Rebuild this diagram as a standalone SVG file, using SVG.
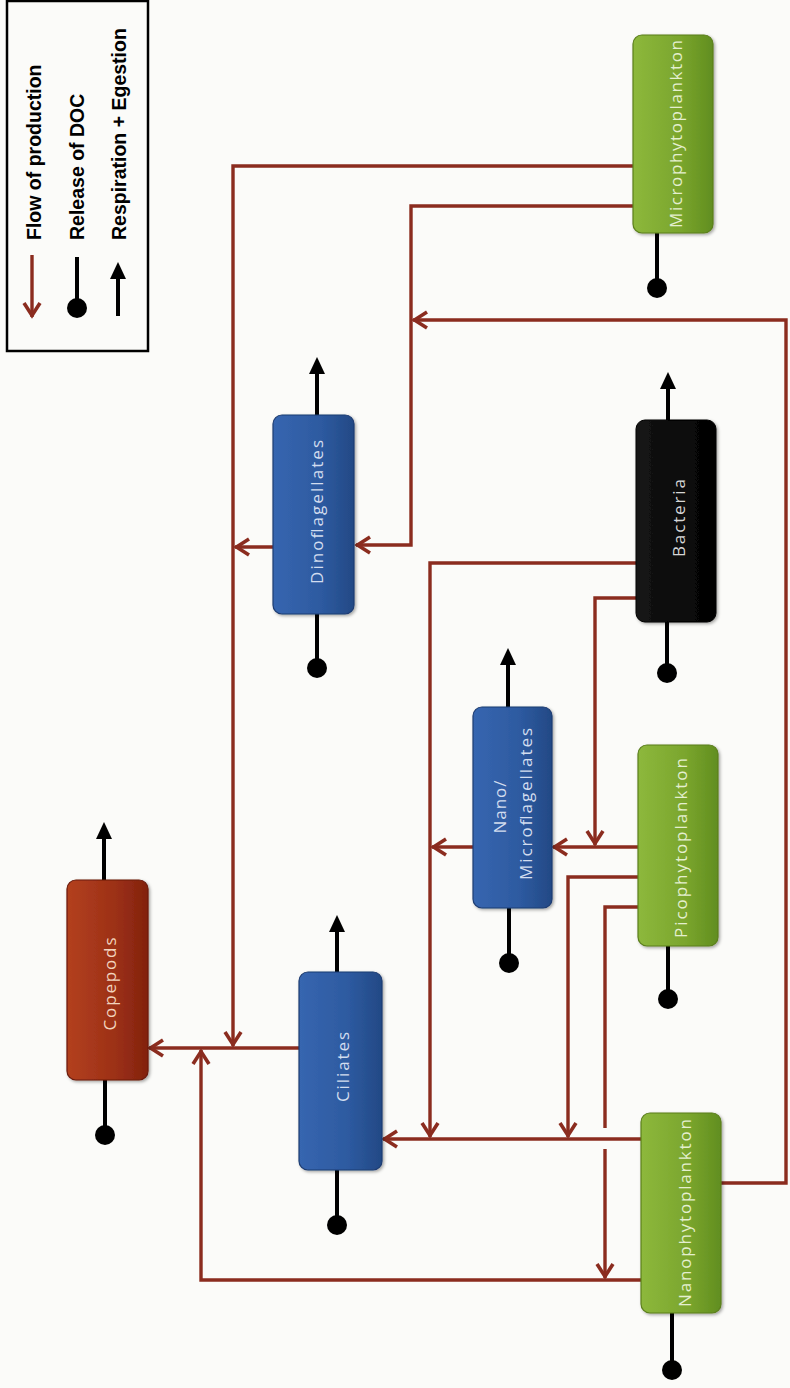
<svg xmlns="http://www.w3.org/2000/svg" xmlns:xlink="http://www.w3.org/1999/xlink" width="790" height="1388" viewBox="0 0 790 1388">
<style>
.bg{fill:#fbfbf9}
.flow{fill:none;stroke:#8b2c1f;stroke-width:3.4;stroke-linejoin:miter}
.stem{stroke:#000;stroke-width:4}
.dot{fill:#000}
.head{fill:#000}
.box{filter:url(#sh)}
.green{fill:url(#gGreen);stroke:#5b7f1c;stroke-width:1.2}
.blue{fill:url(#gBlue);stroke:#1d3c72;stroke-width:1.2}
.black{fill:url(#gBlack);stroke:#000;stroke-width:1}
.red{fill:url(#gRed);stroke:#6a1a0b;stroke-width:1.2}
.lbl{font-family:"Open Sans","Liberation Sans",sans-serif;font-size:17px;text-anchor:middle;dominant-baseline:central}
.tg{fill:#e4efcf}
.tb{fill:#d2ddef}
.tk{fill:#d6d6d6}
.tr{fill:#f1d3bd}
.leg{font-family:"Liberation Sans",Arial,sans-serif;font-size:19.5px;font-weight:bold;fill:#000;dominant-baseline:central}
</style>
<defs>
<linearGradient id="gGreen" x1="0" y1="0" x2="1" y2="0">
<stop offset="0" stop-color="#8db83c"/><stop offset="0.6" stop-color="#7aa52d"/><stop offset="1" stop-color="#618e1f"/>
</linearGradient>
<linearGradient id="gBlue" x1="0" y1="0" x2="1" y2="0">
<stop offset="0" stop-color="#3766b0"/><stop offset="0.6" stop-color="#2d5aa0"/><stop offset="1" stop-color="#234985"/>
</linearGradient>
<linearGradient id="gBlack" x1="0" y1="0" x2="1" y2="0">
<stop offset="0" stop-color="#151515"/><stop offset="1" stop-color="#020202"/>
</linearGradient>
<linearGradient id="gRed" x1="0" y1="0" x2="1" y2="0">
<stop offset="0" stop-color="#b3401f"/><stop offset="0.6" stop-color="#9c3016"/><stop offset="1" stop-color="#82220e"/>
</linearGradient>
<filter id="sh" x="-20%" y="-20%" width="140%" height="140%">
<feDropShadow dx="1.5" dy="1.5" stdDeviation="1.5" flood-color="#000" flood-opacity="0.35"/>
</filter>
<marker id="ra" viewBox="-16 -10 18 20" refX="0" refY="0" markerWidth="18" markerHeight="20" orient="auto" markerUnits="userSpaceOnUse">
<path d="M-14,-8 L-1.5,0 L-14,8" fill="none" stroke="#8b2c1f" stroke-width="3.6"/>
</marker>
<path id="uh" d="M0,0 L-8,17 L8,17 z"/>
</defs>
<rect class="bg" x="0" y="0" width="790" height="1388"/>

<g id="legend">
<rect x="7" y="1" width="141" height="350" fill="none" stroke="#000" stroke-width="2.5"/>
<line x1="32" y1="255" x2="32" y2="317" class="flow" marker-end="url(#ra)"/>
<line x1="77" y1="257" x2="77" y2="305" class="stem"/>
<circle cx="77" cy="308" r="10" class="dot"/>
<line x1="118" y1="316" x2="118" y2="276" class="stem"/>
<use xlink:href="#uh" x="118" y="262" class="head"/>
<text class="leg" transform="translate(34,240) rotate(-90)">Flow of production</text>
<text class="leg" transform="translate(77,240) rotate(-90)">Release of DOC</text>
<text class="leg" transform="translate(119,240) rotate(-90)">Respiration + Egestion</text>
</g>

<g id="connectors">
<path class="flow" d="M633,166 H233 V1046" marker-end="url(#ra)"/>
<path class="flow" d="M633,206 H411 V545 H356" marker-end="url(#ra)"/>
<path class="flow" d="M721,1183 H786 V320 H413" marker-end="url(#ra)"/>
<path class="flow" d="M273,547 H235" marker-end="url(#ra)"/>
<path class="flow" d="M299,1048 H149" marker-end="url(#ra)"/>
<path class="flow" d="M641,1280 H201 V1050" marker-end="url(#ra)"/>
<path class="flow" d="M641,1139 H383" marker-end="url(#ra)"/>
<path class="flow" d="M636,563 H430 V1137" marker-end="url(#ra)"/>
<path class="flow" d="M636,598 H595 V845" marker-end="url(#ra)"/>
<path class="flow" d="M638,847 H553" marker-end="url(#ra)"/>
<path class="flow" d="M473,847 H432" marker-end="url(#ra)"/>
<path class="flow" d="M638,877 H568 V1137" marker-end="url(#ra)"/>
<path class="flow" d="M638,907 H605 V1128"/>
<path class="flow" d="M605,1149 V1278" marker-end="url(#ra)"/>
</g>

<g id="microphytoplankton">
<line x1="657" y1="233" x2="657" y2="288" class="stem"/>
<circle cx="657" cy="288" r="10" class="dot"/>
<rect class="box green" x="633" y="35" width="80" height="198" rx="9"/>
<text class="lbl tg" transform="translate(675,134) rotate(-90)" textLength="188" lengthAdjust="spacing">Microphytoplankton</text>
</g>

<g id="dinoflagellates">
<line x1="317" y1="415" x2="317" y2="370" class="stem"/>
<use xlink:href="#uh" x="317" y="357" class="head"/>
<line x1="317" y1="614" x2="317" y2="668" class="stem"/>
<circle cx="317" cy="668" r="10" class="dot"/>
<rect class="box blue" x="273" y="415" width="81" height="199" rx="9"/>
<text class="lbl tb" transform="translate(316,512) rotate(-90)" textLength="144" lengthAdjust="spacing">Dinoflagellates</text>
</g>

<g id="bacteria">
<line x1="668" y1="420" x2="668" y2="385" class="stem"/>
<use xlink:href="#uh" x="668" y="372" class="head"/>
<line x1="667" y1="622" x2="667" y2="673" class="stem"/>
<circle cx="667" cy="673" r="10" class="dot"/>
<rect class="box black" x="636" y="420" width="80" height="202" rx="9"/>
<text class="lbl tk" transform="translate(678,518) rotate(-90)" textLength="78" lengthAdjust="spacing">Bacteria</text>
</g>

<g id="nano-microflagellates">
<line x1="508" y1="707" x2="508" y2="661" class="stem"/>
<use xlink:href="#uh" x="508" y="648" class="head"/>
<line x1="509" y1="908" x2="509" y2="963" class="stem"/>
<circle cx="509" cy="963" r="10" class="dot"/>
<rect class="box blue" x="473" y="707" width="79" height="201" rx="9"/>
<text class="lbl tb" transform="translate(499,807) rotate(-90)" textLength="53" lengthAdjust="spacing">Nano/</text>
<text class="lbl tb" transform="translate(525,804) rotate(-90)" textLength="152" lengthAdjust="spacing">Microflagellates</text>
</g>

<g id="picophytoplankton">
<line x1="668" y1="946" x2="668" y2="999" class="stem"/>
<circle cx="668" cy="999" r="10" class="dot"/>
<rect class="box green" x="638" y="745" width="80" height="201" rx="9"/>
<text class="lbl tg" transform="translate(680,848) rotate(-90)" textLength="180" lengthAdjust="spacing">Picophytoplankton</text>
</g>

<g id="ciliates">
<line x1="337" y1="972" x2="337" y2="928" class="stem"/>
<use xlink:href="#uh" x="337" y="915" class="head"/>
<line x1="337" y1="1170" x2="337" y2="1225" class="stem"/>
<circle cx="337" cy="1225" r="10" class="dot"/>
<rect class="box blue" x="299" y="972" width="83" height="198" rx="9"/>
<text class="lbl tb" transform="translate(342,1067) rotate(-90)" textLength="70" lengthAdjust="spacing">Ciliates</text>
</g>

<g id="copepods">
<line x1="104" y1="880" x2="104" y2="835" class="stem"/>
<use xlink:href="#uh" x="104" y="822" class="head"/>
<line x1="105" y1="1080" x2="105" y2="1135" class="stem"/>
<circle cx="105" cy="1135" r="10" class="dot"/>
<rect class="box red" x="67" y="880" width="81" height="200" rx="9"/>
<text class="lbl tr" transform="translate(109,984) rotate(-90)" textLength="93" lengthAdjust="spacing">Copepods</text>
</g>

<g id="nanophytoplankton">
<line x1="672" y1="1313" x2="672" y2="1370" class="stem"/>
<circle cx="672" cy="1370" r="10" class="dot"/>
<rect class="box green" x="641" y="1113" width="80" height="200" rx="9"/>
<text class="lbl tg" transform="translate(684,1213) rotate(-90)" textLength="188" lengthAdjust="spacing">Nanophytoplankton</text>
</g>
</svg>
